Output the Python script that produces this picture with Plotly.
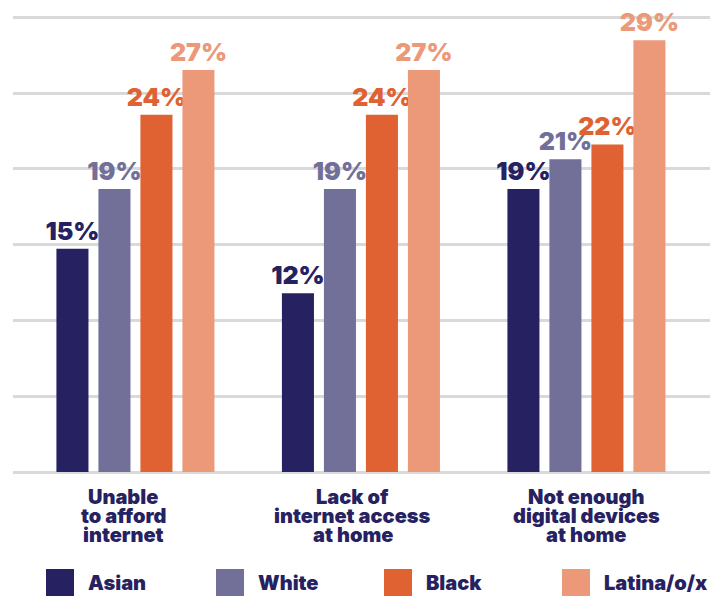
import plotly.graph_objects as go

# Share of students reporting each barrier, by race/ethnicity (%)
categories = [
    "Unable<br>to afford<br>internet",
    "Lack of<br>internet access<br>at home",
    "Not enough<br>digital devices<br>at home",
]
series_names = ["Asian", "White", "Black", "Latina/o/x"]
asian = [15, 12, 19]
white = [19, 19, 21]
black = [24, 24, 22]
latina = [27, 27, 29]

series_values = [asian, white, black, latina]
series_colors = ["#262262", "#726f99", "#e06232", "#eb9979"]
NAVY = "#262262"
FONT = "Inter"
WEIGHT = 900

W, H = 715, 596
ML, MR, MT, MB = 13, 5, 3, 121
plot_w = W - ML - MR
plot_h = H - MT - MB


def paper_x(px):
    return (px - ML) / plot_w


def paper_y(py):
    return (H - MB - py) / plot_h


fig = go.Figure()
for name, vals, color in zip(series_names, series_values, series_colors):
    fig.add_trace(go.Bar(
        name=name,
        x=list(range(len(categories))),
        y=vals,
        marker=dict(color=color, line=dict(width=0)),
        texttemplate="%{y}%",
        textposition="outside",
        constraintext="none",
        cliponaxis=False,
        textfont=dict(family=FONT, size=25, color=color, weight=WEIGHT),
        hoverinfo="skip",
    ))

annotations = []
shapes = []

# Category labels, one annotation per line for tight leading
line_centers = [497.5, 516.0, 534.7]
label_shift = [-12, -8, 0]
for i, cat in enumerate(categories):
    for j, line in enumerate(cat.split("<br>")):
        annotations.append(dict(
            x=i, xref="x", xshift=label_shift[i],
            y=paper_y(line_centers[j]), yref="paper",
            xanchor="center", yanchor="middle",
            text=line, showarrow=False,
            font=dict(family=FONT, size=20, color=NAVY, weight=WEIGHT),
        ))

# Legend: large swatches with labels beside them
swatch_left = [46, 216, 384, 562]
for name, color, left in zip(series_names, series_colors, swatch_left):
    shapes.append(dict(
        type="rect", xref="paper", yref="paper",
        x0=paper_x(left), x1=paper_x(left + 28),
        y0=paper_y(597), y1=paper_y(569),
        fillcolor=color, line=dict(width=0), layer="above",
    ))
    annotations.append(dict(
        x=paper_x(left + 40), xref="paper",
        y=paper_y(583), yref="paper",
        xanchor="left", yanchor="middle",
        text=name, showarrow=False,
        font=dict(family=FONT, size=20, color=NAVY, weight=WEIGHT),
    ))

fig.update_layout(
    width=W, height=H,
    margin=dict(l=ML, r=MR, t=MT, b=MB, pad=0),
    paper_bgcolor="white", plot_bgcolor="white",
    barmode="group", bargap=0.255, bargroupgap=0.237,
    showlegend=False,
    xaxis=dict(range=[-0.543, 2.548], showticklabels=False, showgrid=False,
               zeroline=False, showline=False, ticks=""),
    yaxis=dict(range=[-0.2, 31.5], tick0=0, dtick=5.09, showgrid=True,
               gridcolor="#d9d9d9", gridwidth=3, showticklabels=False,
               zeroline=False, showline=False, ticks=""),
    annotations=annotations,
    shapes=shapes,
)

fig.write_html("out.html")
